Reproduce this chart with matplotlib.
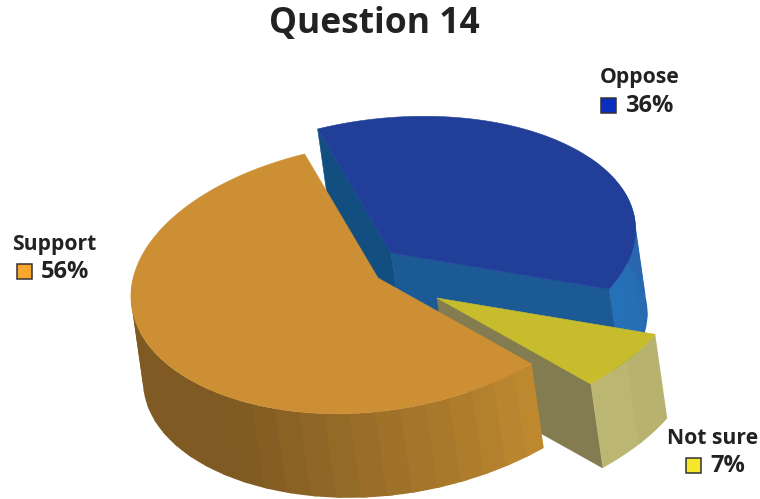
import numpy as np
import matplotlib
matplotlib.use("Agg")
import matplotlib.pyplot as plt
from matplotlib.colors import to_rgb
from matplotlib.patches import Polygon, Rectangle

labels = ["Support", "Not sure", "Oppose"]
values = [56, 7, 36]

START = 104.0      # angle of the first slice edge, going counter clockwise
RX, RY = 248.0, 135.0
TILT = np.radians(6)
DROP = np.array([12.0, 84.0])

apex = {"Support": (378, 278), "Not sure": (437, 298), "Oppose": (391, 253)}
top_col = {"Support": "#CC8F33", "Not sure": "#C6BC2C", "Oppose": "#213F99"}
swatch = {"Support": "#F9A82F", "Not sure": "#F6E62C", "Oppose": "#0A2FBF"}


def rim(name, t):
    t = np.radians(t)
    # the rim pulls in a little at the front right, like the perspective in the original
    shrink = 1 - 0.05 * np.clip(np.cos(t + np.radians(50)), 0, 1) ** 4
    u = RX * shrink * np.cos(t)
    v = RY * shrink * np.sin(t)
    x = apex[name][0] + u * np.cos(TILT) - v * np.sin(TILT)
    y = apex[name][1] - (u * np.sin(TILT) + v * np.cos(TILT))
    return np.column_stack([x, y])


def face(ax, pts, col, z, lw=0.4):
    ax.add_patch(Polygon(pts, closed=True, facecolor=col, edgecolor=col, lw=lw, zorder=z))


def mix(a, b, f):
    a, b = np.array(to_rgb(a)), np.array(to_rgb(b))
    return tuple(a + (b - a) * min(max(f, 0), 1))


def outer_side(ax, name, t0, t1, step, col_fn, z):
    edges = list(np.arange(t0, t1, step)) + [t1]
    for a, b in zip(edges[:-1], edges[1:]):
        # runs on under the next band so no seam shows between them
        over = min(b + 1.5, t1)
        arc = rim(name, np.linspace(a, over, 10))
        face(ax, np.vstack([arc, arc[::-1] + DROP]), col_fn((a + b) / 2), z, lw=0)


def radial_side(ax, name, t, col, z):
    p = rim(name, np.array([t]))[0]
    c = np.array(apex[name], dtype=float)
    face(ax, [c, p, p + DROP, c + DROP], col, z)


fig = plt.figure(figsize=(7.6, 4.99), dpi=100)
ax = fig.add_axes([0, 0, 1, 1])
ax.set_xlim(0, 760)
ax.set_ylim(499, 0)
ax.axis("off")

sweeps = np.array(values) / sum(values) * 360
ends = START + np.cumsum(sweeps)
starts = ends - sweeps
span = dict(zip(labels, zip(starts, ends)))


def top(name, z):
    t0, t1 = span[name]
    face(ax, np.vstack([[apex[name]], rim(name, np.linspace(t0, t1, 200))]), top_col[name], z)


# oppose sits at the back
t0, t1 = span["Oppose"]
radial_side(ax, "Oppose", t1, "#124F80", 1)
outer_side(ax, "Oppose", t0, t0 + 60, 8,
           lambda t: mix("#2472B8", "#2A66AE", (t - t0) / 40), 1)
radial_side(ax, "Oppose", t0, "#1C5A96", 1.5)
top("Oppose", 2)

# not sure slice
t0, t1 = span["Not sure"]
radial_side(ax, "Not sure", t0, "#827C50", 3)
outer_side(ax, "Not sure", t0, t1, 12.75,
           lambda t: mix("#BDB873", "#B5B06C", (t - t0) / (t1 - t0)), 3)
top("Not sure", 4)

# support in front
t0, t1 = span["Support"]
outer_side(ax, "Support", 170, t1, 6,
           lambda t: mix("#7F5A22", "#C08A30", (t - 232) / (t1 - 232)), 5)
top("Support", 6)

# text
txt = "#222222"
font = "Open Sans"
ax.text(374, 24, "Question 14", ha="center", va="center", fontsize=25.5,
        fontweight="bold", color=txt, family=font)

label_pos = {"Support": (12, 244), "Oppose": (600, 77), "Not sure": (667, 438)}
swatch_pos = {"Support": (17, 264), "Oppose": (601, 98), "Not sure": (686, 458)}
for name, val in zip(labels, values):
    x, y = label_pos[name]
    ax.text(x, y, name, ha="left", va="center", fontsize=15.2, fontweight="bold",
            color=txt, family=font)
    sx, sy = swatch_pos[name]
    ax.add_patch(Rectangle((sx, sy), 14.5, 14.5, facecolor=swatch[name],
                           edgecolor="#333333", lw=1.1))
    ax.text(sx + 24, sy + 8, "%d%%" % val, ha="left", va="center", fontsize=17,
            fontweight="bold", color=txt, family=font)

fig.savefig("out.png", dpi=100)
